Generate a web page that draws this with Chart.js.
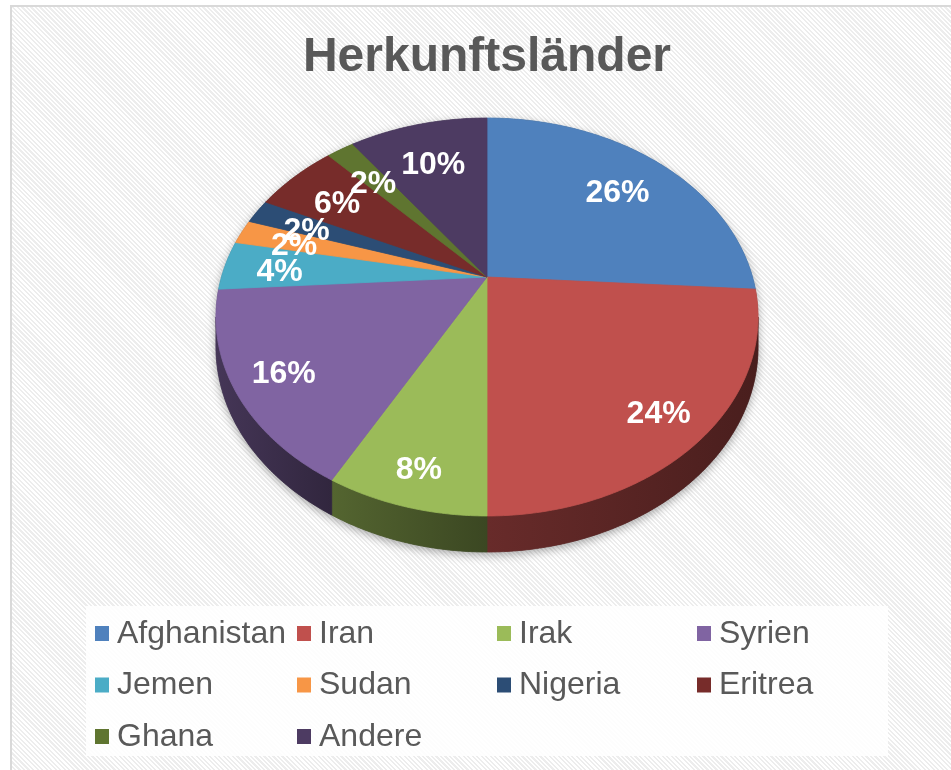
<!DOCTYPE html>
<html>
<head>
<meta charset="utf-8">
<script src="https://cdn.jsdelivr.net/npm/chart.js@4/dist/chart.umd.min.js"></script>
<style>
body { margin: 0; background: #fff; width: 951px; height: 770px; overflow: hidden; position: relative; }
#frame {
    position: absolute; left: 10px; top: 5px; width: 960px; height: 790px;
    border-left: 2px solid #d9d9d9; border-top: 2px solid #d9d9d9;
    background: repeating-linear-gradient(45deg, #ffffff 0px, #ffffff 1.6px, #ededed 1.6px, #ededed 3.2px);
}
#pie { position: absolute; left: 0; top: 0; }
</style>
</head>
<body>
<div id="frame"></div>
<canvas id="pie" width="951" height="770"></canvas>
<script>
var laender = ['Afghanistan', 'Iran', 'Irak', 'Syrien', 'Jemen', 'Sudan', 'Nigeria', 'Eritrea', 'Ghana', 'Andere']
var anteile = [26, 24, 8, 16, 4, 2, 2, 6, 2, 10]
var farben = ['#4F81BD', '#C0504D', '#9BBB59', '#8064A2', '#4BACC6', '#F79646', '#2C4D75', '#772C2A', '#5F7530', '#4D3B62']

var FONT = "'Liberation Sans', Arial, sans-serif"

// perspective of the tilted pie
var TILT = -0.201
var SX = 1.42
var SY = 1.021
var DEPTH = 28.8

function proj(arc, a, r, dz) {
    var u = r * Math.cos(a), v = r * Math.sin(a)
    var d = 1 + TILT * v
    return {
        x: arc.x + arc.outerRadius * SX * u / d,
        y: arc.y + arc.outerRadius * SY * v / d + (dz || 0) / d
    }
}

function shade(hex, f) {
    var n = parseInt(hex.slice(1), 16)
    var r = Math.round(((n >> 16) & 255) * f), g = Math.round(((n >> 8) & 255) * f), b = Math.round((n & 255) * f)
    return 'rgb(' + r + ',' + g + ',' + b + ')'
}

function rimPath(ctx, arc, a, b, dz, first) {
    var steps = Math.max(2, Math.ceil(Math.abs(b - a) / 0.01))
    for (var i = 0; i <= steps; i++) {
        var p = proj(arc, a + (b - a) * i / steps, 1, dz)
        if (i == 0 && first) ctx.moveTo(p.x, p.y)
        else ctx.lineTo(p.x, p.y)
    }
}

var pie3d = {
    id: 'pie3d',
    beforeDatasetsDraw: function(chart) {
        var ctx = chart.ctx
        var arcs = chart.getDatasetMeta(0).data
        var ds = chart.data.datasets[0]
        var lo = Math.asin(-TILT), hi = Math.PI - lo

        ctx.save()
        // soft shadow under the pie
        var c = arcs[0]
        ctx.beginPath()
        rimPath(ctx, c, lo, hi, DEPTH, true)
        rimPath(ctx, c, hi, lo + 2 * Math.PI, 0, false)
        ctx.closePath()
        ctx.shadowColor = 'rgba(0,0,0,0.35)'
        ctx.shadowBlur = 10
        ctx.shadowOffsetY = 3
        ctx.fillStyle = '#555'
        ctx.fill()
        ctx.shadowColor = 'transparent'

        // side walls
        arcs.forEach(function(arc, i) {
            var a = Math.max(arc.startAngle, lo), b = Math.min(arc.endAngle, hi)
            if (b <= a) return
            var pa = proj(arc, a, 1, 0), pb = proj(arc, b, 1, 0)
            var grad = ctx.createLinearGradient(Math.min(pa.x, pb.x), 0, Math.max(pa.x, pb.x), 0)
            grad.addColorStop(0, shade(ds.backgroundColor[i], 0.54))
            grad.addColorStop(1, shade(ds.backgroundColor[i], 0.38))
            ctx.beginPath()
            rimPath(ctx, arc, a, b, 0, true)
            rimPath(ctx, arc, b, a, DEPTH, false)
            ctx.closePath()
            ctx.fillStyle = grad
            ctx.strokeStyle = grad
            ctx.lineWidth = 0.8
            ctx.fill()
            ctx.stroke()
        })

        // top faces
        arcs.forEach(function(arc, i) {
            var m = proj(arc, 0, 0, 0)
            ctx.beginPath()
            ctx.moveTo(m.x, m.y)
            rimPath(ctx, arc, arc.startAngle, arc.endAngle, 0, false)
            ctx.closePath()
            ctx.fillStyle = ds.backgroundColor[i]
            ctx.strokeStyle = ds.backgroundColor[i]
            ctx.lineWidth = 0.8
            ctx.fill()
            ctx.stroke()
        })

        // percentage labels (pushed a bit outward on the near side)
        var total = ds.data.reduce(function(s, v) { return s + v }, 0)
        ctx.fillStyle = '#ffffff'
        ctx.font = 'bold 32px ' + FONT
        ctx.textAlign = 'center'
        ctx.textBaseline = 'middle'
        arcs.forEach(function(arc, i) {
            var mid = (arc.startAngle + arc.endAngle) / 2
            var p = proj(arc, mid, 0.79 + 0.06 * Math.sin(mid), 0)
            ctx.fillText(Math.round(ds.data[i] / total * 100) + '%', p.x - 1, p.y + 5)
        })
        ctx.restore()
        return false
    },
    afterDraw: function(chart) {
        var ctx = chart.ctx
        var ds = chart.data.datasets[0]
        var cols = [95, 297, 497, 697]
        ctx.save()
        ctx.fillStyle = 'rgba(255,255,255,0.85)'
        ctx.fillRect(86, 606, 802, 150)
        ctx.font = '32px ' + FONT
        ctx.textBaseline = 'middle'
        ctx.textAlign = 'left'
        chart.data.labels.forEach(function(lab, i) {
            var x = cols[i % 4]
            var y = 633 + Math.floor(i / 4) * 51.5
            ctx.fillStyle = ds.backgroundColor[i]
            ctx.fillRect(x, y - 7, 14, 15)
            ctx.fillStyle = '#595959'
            ctx.fillText(lab, x + 22, y + 1)
        })
        ctx.restore()
    }
}

var chart = new Chart(document.getElementById('pie'), {
    type: 'pie',
    data: {
        labels: laender,
        datasets: [{
            data: anteile,
            backgroundColor: farben,
            borderWidth: 0
        }]
    },
    options: {
        responsive: false,
        animation: false,
        layout: { padding: { left: 23, bottom: 306 } },
        plugins: {
            legend: { display: false },
            tooltip: { enabled: false },
            title: {
                display: true,
                text: 'Herkunftsländer',
                color: '#595959',
                font: { family: FONT, size: 48, weight: 'bold' },
                padding: { top: 29, bottom: 3.4 }
            }
        }
    },
    plugins: [pie3d]
})
</script>
</body>
</html>
